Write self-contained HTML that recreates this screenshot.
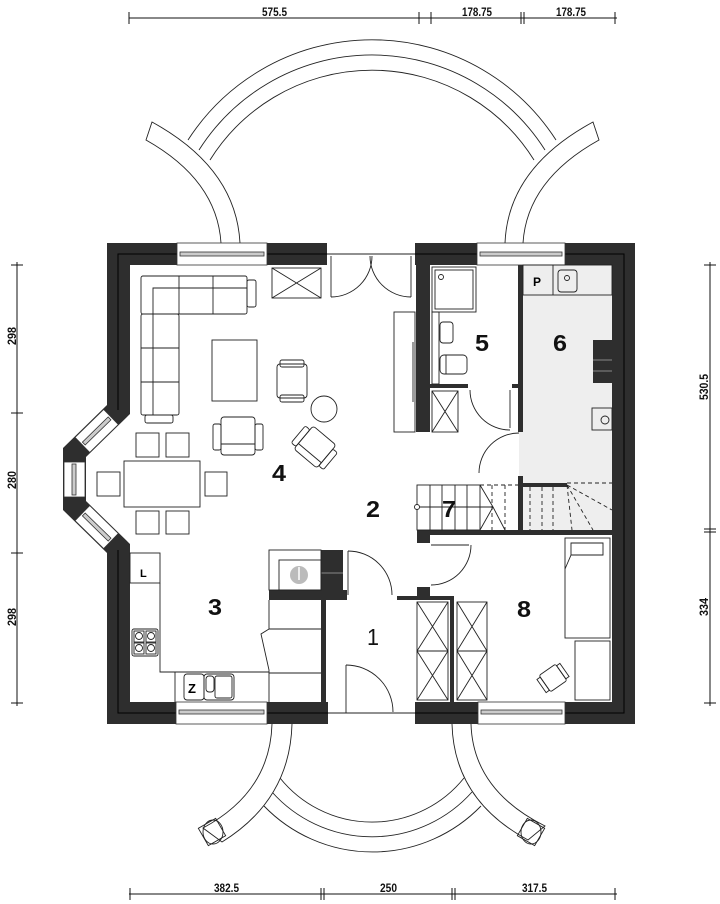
<!DOCTYPE html>
<html><head><meta charset="utf-8"><style>
html,body{margin:0;padding:0;background:#fff;}
svg{display:block;}
.num{font-family:"Liberation Sans",sans-serif;font-weight:bold;font-size:23px;fill:#111;}
.dim{font-family:"Liberation Sans",sans-serif;font-weight:bold;font-size:12px;fill:#111;}
</style></head><body>
<svg width="720" height="904" viewBox="0 0 720 904" xmlns="http://www.w3.org/2000/svg">
<g fill="none" stroke="#222" stroke-width="0.9">
<!-- top arch -->
<path d="M188,140 A219,219 0 0 1 556,140"/>
<path d="M199,150 A205,205 0 0 1 545,150"/>
<path d="M210,160 A191,191 0 0 1 534,160"/>
<!-- top legs -->
<path d="M221,243 Q217,180 146,140 L152,122 Q236,168 240,243" fill="#fff"/>
<path d="M505,243 Q508,168 593,122 L599,140 Q527,180 523,243" fill="#fff"/>
<!-- bottom arch -->
<path d="M264,806 A151,151 0 0 0 481,806"/>
<path d="M272,792 A134,134 0 0 0 472,792"/>
<path d="M280,778 A118,118 0 0 0 464,778"/>
<!-- bottom legs -->
<path d="M272,724 Q270,792 203,828 L222,842 Q290,800 292,724" fill="#fff"/>
<path d="M452,724 Q454,800 528,840 L545,826 Q473,790 471,724" fill="#fff"/>
<ellipse cx="213" cy="832" rx="10" ry="12"/>
<rect x="202" y="822" width="20" height="20" transform="rotate(-30 212 832)"/>
<ellipse cx="531" cy="832" rx="10" ry="12"/>
<rect x="521" y="822" width="20" height="20" transform="rotate(30 531 832)"/>
</g>

<!-- dimension lines -->
<g stroke="#111" stroke-width="1">
<line x1="129" y1="18" x2="617" y2="18"/>
<line x1="129" y1="12" x2="129" y2="24"/><line x1="419" y1="12" x2="419" y2="24"/><line x1="431" y1="12" x2="431" y2="24"/>
<line x1="521" y1="12" x2="521" y2="24"/><line x1="524" y1="12" x2="524" y2="24"/><line x1="615" y1="12" x2="615" y2="24"/>
<line x1="129" y1="894" x2="617" y2="894"/>
<line x1="130" y1="888" x2="130" y2="900"/><line x1="321" y1="888" x2="321" y2="900"/><line x1="324" y1="888" x2="324" y2="900"/>
<line x1="452" y1="888" x2="452" y2="900"/><line x1="455" y1="888" x2="455" y2="900"/><line x1="615" y1="888" x2="615" y2="900"/>
<line x1="17" y1="262" x2="17" y2="706"/>
<line x1="11" y1="265" x2="23" y2="265"/><line x1="11" y1="413" x2="23" y2="413"/><line x1="11" y1="553" x2="23" y2="553"/><line x1="11" y1="703" x2="23" y2="703"/>
<line x1="710" y1="262" x2="710" y2="706"/>
<line x1="704" y1="265" x2="716" y2="265"/><line x1="704" y1="529" x2="716" y2="529"/><line x1="704" y1="532" x2="716" y2="532"/><line x1="704" y1="703" x2="716" y2="703"/>
</g>
<g class="dim">
<text x="262" y="16" textLength="25" lengthAdjust="spacingAndGlyphs">575.5</text>
<text x="462" y="16" textLength="30" lengthAdjust="spacingAndGlyphs">178.75</text>
<text x="556" y="16" textLength="30" lengthAdjust="spacingAndGlyphs">178.75</text>
<text x="214" y="892" textLength="25" lengthAdjust="spacingAndGlyphs">382.5</text>
<text x="380" y="892" textLength="17" lengthAdjust="spacingAndGlyphs">250</text>
<text x="522" y="892" textLength="25" lengthAdjust="spacingAndGlyphs">317.5</text>
<text transform="translate(16,345) rotate(-90)" textLength="18" lengthAdjust="spacingAndGlyphs">298</text>
<text transform="translate(16,489) rotate(-90)" textLength="18" lengthAdjust="spacingAndGlyphs">280</text>
<text transform="translate(16,626) rotate(-90)" textLength="18" lengthAdjust="spacingAndGlyphs">298</text>
<text transform="translate(708,400) rotate(-90)" textLength="26" lengthAdjust="spacingAndGlyphs">530.5</text>
<text transform="translate(708,616) rotate(-90)" textLength="18" lengthAdjust="spacingAndGlyphs">334</text>
</g>

<!-- room 6 gray floor -->
<rect x="519" y="265" width="93" height="265" fill="#eeeeee"/>

<!-- walls -->
<g fill="#2e2e2e">
<rect x="107" y="243" width="70" height="22"/>
<rect x="267" y="243" width="60" height="22"/>
<rect x="415" y="243" width="62" height="22"/>
<rect x="565" y="243" width="70" height="22"/>
<rect x="107" y="243" width="23" height="170"/>
<rect x="107" y="548" width="23" height="176"/>
<rect x="612" y="243" width="23" height="481"/>
<rect x="107" y="702" width="69" height="22"/>
<rect x="267" y="702" width="61" height="22"/>
<rect x="415" y="702" width="63" height="22"/>
<rect x="565" y="702" width="70" height="22"/>
<polygon points="107,400 107,405 63,448 63,510 107,553 107,560 130,560 130,544 86,501 86,457 130,414 130,400"/>
<rect x="416" y="265" width="14" height="167"/>
<rect x="518" y="265" width="5" height="167"/>
<rect x="430" y="384" width="38" height="4"/>
<rect x="512" y="384" width="6" height="4"/>
<rect x="518" y="476" width="5" height="56"/>
<rect x="523" y="483" width="44" height="4"/>
<rect x="417" y="530" width="195" height="5"/>
<rect x="417" y="530" width="13" height="13"/>
<rect x="417" y="587" width="13" height="10"/>
<rect x="397" y="596" width="56" height="4"/>
<rect x="450" y="596" width="4" height="106"/>
<rect x="321" y="550" width="22" height="47"/>
<rect x="269" y="590" width="78" height="10"/>
<rect x="321" y="597" width="5" height="105"/>
<rect x="593" y="340" width="19" height="43"/>
</g>
<g stroke="#000" stroke-width="1" fill="none">
<polyline points="118,410 118,254 624,254 624,713 118,713 118,550"/>
<line x1="593" y1="360" x2="612" y2="360" stroke="#888"/>
<line x1="593" y1="371" x2="612" y2="371" stroke="#888"/>
<line x1="321" y1="573" x2="343" y2="573" stroke="#888"/>
</g>

<!-- windows -->
<g stroke="#333" stroke-width="0.8">
<rect x="177" y="243" width="90" height="22" fill="#fff"/>
<rect x="180" y="252" width="84" height="4" fill="#ccc"/>
<rect x="477" y="243" width="88" height="22" fill="#fff"/>
<rect x="480" y="252" width="82" height="4" fill="#ccc"/>
<rect x="176" y="702" width="91" height="22" fill="#fff"/>
<rect x="179" y="710" width="85" height="4" fill="#ccc"/>
<rect x="478" y="702" width="87" height="22" fill="#fff"/>
<rect x="481" y="710" width="81" height="4" fill="#ccc"/>
<rect x="64" y="462" width="21" height="35" fill="#fff"/>
<rect x="72" y="464" width="4" height="31" fill="#ccc"/>
<g transform="translate(111,417) rotate(135.7)">
<rect x="0" y="-10.5" width="40" height="21" fill="#fff"/>
<rect x="2" y="-2" width="36" height="4" fill="#ccc"/>
</g>
<g transform="translate(111,541) rotate(-135.7)">
<rect x="0" y="-10.5" width="40" height="21" fill="#fff"/>
<rect x="2" y="-2" width="36" height="4" fill="#ccc"/>
</g>
</g>

<g fill="none" stroke="#222" stroke-width="0.9">
<line x1="327" y1="254" x2="415" y2="254"/>
<line x1="331" y1="256" x2="331" y2="297"/>
<path d="M331,297 A41,41 0 0 0 372,256"/>
<line x1="411" y1="256" x2="411" y2="297"/>
<path d="M411,297 A41,41 0 0 1 370,256"/>
<rect x="272" y="268" width="49" height="30"/>
<line x1="272" y1="268" x2="321" y2="298"/><line x1="321" y1="268" x2="272" y2="298"/>
<rect x="141" y="276" width="106" height="38" rx="2"/>
<rect x="247" y="280" width="9" height="27" rx="2"/>
<rect x="141" y="314" width="38" height="101" rx="2"/>
<rect x="145" y="415" width="28" height="8" rx="2"/>
<polyline points="247,288 153,288 153,415"/>
<line x1="179" y1="276" x2="179" y2="314"/><line x1="213" y1="276" x2="213" y2="314"/>
<line x1="141" y1="348" x2="179" y2="348"/><line x1="141" y1="382" x2="179" y2="382"/>
<rect x="212" y="340" width="45" height="61"/>
<g transform="translate(292,381)">
<rect x="-15" y="-17" width="30" height="34" rx="3"/>
<rect x="-12" y="-21" width="24" height="7" rx="2"/><rect x="-12" y="14" width="24" height="7" rx="2"/>
</g>
<circle cx="324" cy="409" r="13"/>
<g transform="translate(238,436)">
<rect x="-17" y="-19" width="34" height="38" rx="3"/>
<rect x="-25" y="-12" width="8" height="26" rx="2"/><rect x="17" y="-12" width="8" height="26" rx="2"/>
<line x1="-17" y1="8" x2="17" y2="8"/>
</g>
<g transform="translate(315,447) rotate(40)">
<rect x="-15" y="-15" width="30" height="30" rx="3"/>
<rect x="-21" y="-10" width="6" height="22" rx="2"/><rect x="15" y="-10" width="6" height="22" rx="2"/>
<line x1="-15" y1="8" x2="15" y2="8"/>
</g>
<rect x="124" y="461" width="76" height="46"/>
<rect x="136" y="433" width="23" height="24"/><rect x="166" y="433" width="23" height="24"/>
<rect x="97" y="472" width="23" height="24"/><rect x="205" y="472" width="22" height="24"/>
<rect x="136" y="511" width="23" height="23"/><rect x="166" y="511" width="23" height="23"/>
<rect x="394" y="312" width="21" height="120"/>
<line x1="413" y1="342" x2="413" y2="402"/>
<rect x="432" y="267" width="44" height="45"/>
<rect x="435" y="270" width="38" height="39"/>
<circle cx="441" cy="277" r="2.5"/>
<rect x="432" y="312" width="7" height="72"/>
<rect x="440" y="322" width="13" height="21" rx="3"/>
<rect x="440" y="355" width="27" height="19" rx="4"/>
<line x1="446" y1="355" x2="446" y2="374"/>
<rect x="432" y="391" width="26" height="41"/>
<line x1="432" y1="391" x2="458" y2="432"/><line x1="458" y1="391" x2="432" y2="432"/>
<line x1="510" y1="390" x2="510" y2="428"/>
<path d="M470,390 A40,40 0 0 0 510,430"/>
<rect x="523" y="265" width="89" height="30"/>
<line x1="553" y1="265" x2="553" y2="295"/>
<rect x="558" y="270" width="19" height="22" rx="3"/>
<circle cx="567" cy="278" r="2.5"/>
<rect x="592" y="408" width="20" height="22"/>
<circle cx="605" cy="420" r="4"/>
<path d="M519,433 A40,40 0 0 0 479,473"/>
<rect x="417" y="485" width="63" height="45"/>
<line x1="430" y1="485" x2="430" y2="530"/><line x1="442" y1="485" x2="442" y2="530"/>
<line x1="455" y1="485" x2="455" y2="530"/><line x1="467" y1="485" x2="467" y2="530"/>
<line x1="417" y1="507" x2="493" y2="507"/>
<circle cx="417" cy="507" r="2.5" fill="#fff"/>
<polyline points="480,485 493,507 480,530"/>
<line x1="493" y1="507" x2="505" y2="530"/>
<g stroke-dasharray="4,3">
<line x1="480" y1="485" x2="518" y2="485"/>
<line x1="492" y1="485" x2="492" y2="530"/><line x1="505" y1="485" x2="505" y2="530"/>
<line x1="530" y1="487" x2="530" y2="530"/><line x1="542" y1="487" x2="542" y2="530"/><line x1="553" y1="487" x2="553" y2="530"/>
<line x1="567" y1="485" x2="572" y2="530"/><line x1="567" y1="485" x2="593" y2="530"/><line x1="567" y1="485" x2="612" y2="510"/>
<line x1="567" y1="483" x2="612" y2="483"/>
</g>
<line x1="431" y1="545" x2="469" y2="545"/>
<path d="M471,545 A40,40 0 0 1 431,585"/>
<rect x="417" y="602" width="31" height="98"/>
<line x1="417" y1="651" x2="448" y2="651"/>
<line x1="417" y1="602" x2="448" y2="651"/><line x1="448" y1="602" x2="417" y2="651"/>
<line x1="417" y1="651" x2="448" y2="700"/><line x1="448" y1="651" x2="417" y2="700"/>
<rect x="457" y="602" width="30" height="98"/>
<line x1="457" y1="651" x2="487" y2="651"/>
<line x1="457" y1="602" x2="487" y2="651"/><line x1="487" y1="602" x2="457" y2="651"/>
<line x1="457" y1="651" x2="487" y2="700"/><line x1="487" y1="651" x2="457" y2="700"/>
<rect x="565" y="538" width="45" height="100"/>
<polyline points="565,569 571,555 571,543 603,543 603,555 571,555"/>
<rect x="575" y="641" width="35" height="59"/>
<g transform="translate(553,678) rotate(-35)">
<rect x="-10" y="-10" width="20" height="20" rx="2"/>
<rect x="-14" y="-8" width="4" height="16"/><rect x="10" y="-8" width="4" height="16"/>
</g>
<line x1="348" y1="551" x2="348" y2="595"/>
<path d="M348,551 A44,44 0 0 1 392,595"/>
<line x1="328" y1="713" x2="415" y2="713"/>
<line x1="346" y1="665" x2="346" y2="713"/>
<path d="M346,665 A47,47 0 0 1 393,712"/>
<rect x="269" y="550" width="52" height="40"/>
<rect x="279" y="560" width="42" height="30"/>
<polyline points="269,600 269,629 261,634 269,670 269,702"/>
<line x1="269" y1="629" x2="321" y2="629"/><line x1="269" y1="673" x2="321" y2="673"/>
<rect x="130" y="553" width="30" height="30"/>
<polyline points="160,583 160,672 269,672"/>
<line x1="175" y1="672" x2="175" y2="702"/>
<rect x="132" y="629" width="26" height="27" rx="2"/>
<rect x="134" y="631" width="10" height="11"/><rect x="146" y="631" width="10" height="11"/>
<rect x="134" y="643" width="10" height="11"/><rect x="146" y="643" width="10" height="11"/>
<circle cx="139" cy="636" r="3.5"/><circle cx="151" cy="636" r="3.5"/>
<circle cx="139" cy="648" r="3.5"/><circle cx="151" cy="648" r="3.5"/>
<rect x="184" y="674" width="20" height="26" rx="3"/>
<rect x="204" y="674" width="30" height="26" rx="3"/>
<rect x="206" y="676" width="8" height="16" rx="3"/>
<rect x="215" y="676" width="17" height="22" rx="2"/>
</g>
<circle cx="299" cy="575" r="9" fill="#bbb"/>
<line x1="299" y1="567" x2="299" y2="580" stroke="#fff" stroke-width="1.5"/>
<text x="140" y="577" font-family="Liberation Sans,sans-serif" font-weight="bold" font-size="11">L</text>
<text x="188" y="693" font-family="Liberation Sans,sans-serif" font-weight="bold" font-size="13">Z</text>
<text x="533" y="286" font-family="Liberation Sans,sans-serif" font-weight="bold" font-size="12">P</text>

<g class="num">
<text x="272" y="481" textLength="14" lengthAdjust="spacingAndGlyphs">4</text>
<text x="366" y="517" textLength="14" lengthAdjust="spacingAndGlyphs">2</text>
<text x="475" y="351" textLength="14" lengthAdjust="spacingAndGlyphs">5</text>
<text x="553" y="351" textLength="14" lengthAdjust="spacingAndGlyphs">6</text>
<text x="442" y="517" textLength="14" lengthAdjust="spacingAndGlyphs">7</text>
<text x="208" y="615" textLength="14" lengthAdjust="spacingAndGlyphs">3</text>
<text x="517" y="617" textLength="14" lengthAdjust="spacingAndGlyphs">8</text>
<text x="367" y="645" textLength="12" lengthAdjust="spacingAndGlyphs" font-weight="normal">1</text>
</g>
</svg>
</body></html>
